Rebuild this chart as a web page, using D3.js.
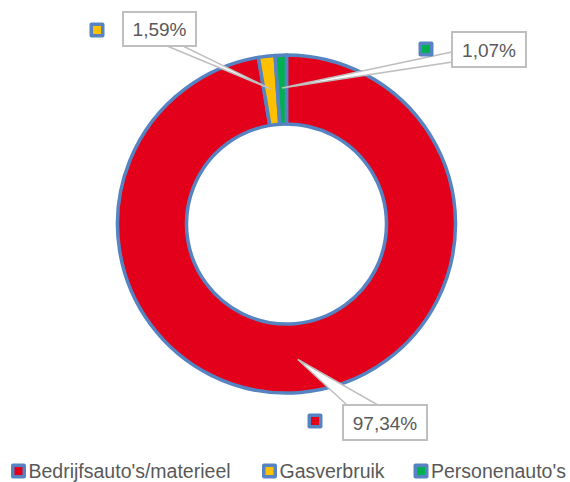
<!DOCTYPE html>
<html><head><meta charset="utf-8">
<script src="https://cdn.jsdelivr.net/npm/d3@7"></script>
<style>html,body{margin:0;padding:0;background:#fff}svg{display:block}</style>
</head><body>
<svg id="c" width="570" height="482"></svg>
<script>
const categories = ["Bedrijfsauto's/materieel", "Gasverbruik", "Personenauto's"];
const values = [97.34, 1.59, 1.07];
const labels = ["97,34%", "1,59%", "1,07%"];
const colors = ["#E2001A", "#FFC000", "#00B050"];

const svg = d3.select("#c");
const cx = 286.5, cy = 224, rIn = 100, rOut = 169;
const border = "#5683C2", grey = "#BFBFBF", txt = "#595959";
const font = "Liberation Sans, Arial, sans-serif";

const pie = d3.pie().sort(null).value(d => d)(values);
const arc = d3.arc().innerRadius(rIn).outerRadius(rOut);
const mid = d3.arc().innerRadius(136).outerRadius(136);

const g = svg.append("g").attr("transform", `translate(${cx},${cy})`);
g.selectAll("path").data(pie).join("path")
  .attr("d", arc).attr("fill", (d, i) => colors[i])
  .attr("stroke", border).attr("stroke-width", 3.5).attr("stroke-linejoin", "round");

// label layout (box, tail base) per slice
const layout = [
  {box: [343, 405, 84, 35], base: [[347, 405], [378, 405]], key: [315, 421]},
  {box: [123, 12, 73, 34], base: [[167, 46], [183, 46]], key: [97, 30]},
  {box: [452, 32, 74, 35], base: [[452, 52], [452, 62]], key: [426, 49]}
];

pie.forEach((d, i) => {
  const L = layout[i];
  const c = mid.centroid(d);
  const p = [cx + c[0], cy + c[1]];
  svg.append("path")
    .attr("d", d3.line()([p, L.base[0], L.base[1]]) + "Z")
    .attr("fill", "#fff").attr("stroke", grey).attr("stroke-width", 1.5);
  svg.append("rect").attr("x", L.box[0]).attr("y", L.box[1])
    .attr("width", L.box[2]).attr("height", L.box[3])
    .attr("fill", "#fff").attr("stroke", grey).attr("stroke-width", 2);
  svg.append("text").attr("x", L.box[0] + L.box[2] / 2).attr("y", L.box[1] + L.box[3] / 2 + 7)
    .attr("text-anchor", "middle").attr("font-family", font)
    .attr("font-size", 19).attr("fill", txt).text(labels[i]);
  drawKey(L.key[0], L.key[1], colors[i]);
});

function drawKey(x, y, col) {
  svg.append("rect").attr("x", x - 7.5).attr("y", y - 7.5).attr("width", 15).attr("height", 15)
    .attr("rx", 2).attr("fill", border);
  svg.append("rect").attr("x", x - 4).attr("y", y - 4).attr("width", 8).attr("height", 8)
    .attr("fill", col);
}

// legend
const legX = [18.5, 269.5, 421];
categories.forEach((c, i) => {
  drawKey(legX[i], 471, colors[i]);
  svg.append("text").attr("x", legX[i] + 10).attr("y", 478)
    .attr("font-family", font).attr("font-size", 19.5)
    .attr("fill", txt).text(c);
});
</script>
</body></html>
